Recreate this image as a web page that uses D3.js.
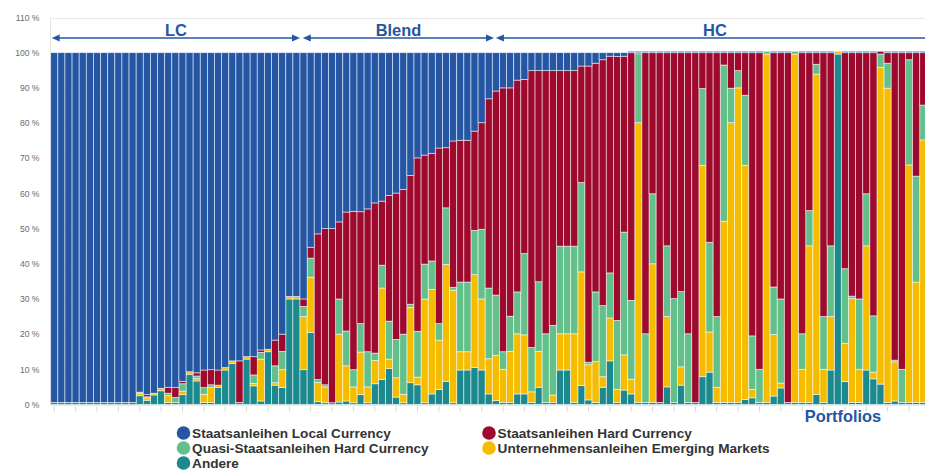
<!DOCTYPE html>
<html>
<head>
<meta charset="utf-8">
<script src="https://cdn.jsdelivr.net/npm/d3@7"></script>
<style>
  html, body { margin: 0; padding: 0; background: #fff; }
  svg { display: block; font-family: Arial, "Liberation Sans", sans-serif; }
</style>
</head>
<body>
<svg id="chart" width="925" height="470"></svg>
<script>
// Portfolio composition, in % of each portfolio, sorted from local-currency to hard-currency funds
const andere = [
  0.6,0.6,0.6,0.6,0.6,0.6,0.6,0.6,0.6,0.6,0.6,0.6,2.5,1.2,2.7,3.9,0.6,0.6,2.8,8.6,
  6.7,0.6,0.6,4.8,9.8,11.7,0.6,12.9,5.3,1.0,15.0,5.5,4.8,30.0,30.0,9.9,20.5,0.8,0.5,0.5,
  0.7,1.0,0.5,2.8,0.5,5.9,7.1,10.2,2.1,0.5,6.2,5.6,0.5,3.0,4.3,6.6,0.5,9.8,9.8,10.5,
  9.8,3.0,1.1,0.6,0.6,3.0,3.0,0.6,4.9,0.6,0.6,9.8,9.8,0.6,5.4,1.3,0.6,4.9,12.4,0.6,
  4.1,3.0,0.6,0.6,0.6,0.6,5.0,0.6,5.5,0.6,0.6,7.9,9.2,0.6,0.6,0.6,0.6,1.4,1.9,0.6,
  0.6,2.4,4.7,0.6,0.6,0.6,0.6,2.9,0.6,9.8,99.6,6.5,0.6,0.6,9.8,7.3,5.8,0.6,1.0,0.6,
  0.6,0.6,0.6
];
const unternehmensanleihenEM = [
  0,0,0,0,0,0,0,0,0,0,0,0,0.7,0.7,0.5,0.7,1.9,0,1.0,0.7,
  0.7,2.3,4.3,0.7,0.7,0.7,0,0.7,0.7,11.9,0.7,0.7,5.1,0.7,0.7,15.1,15.7,5.5,4.5,0,
  19.3,10.0,4.5,12.1,4.5,6.6,26.0,2.7,5.5,2.4,21.4,2.2,29.5,29.7,14.0,33.2,32.0,5.2,5.2,26.4,
  20.2,10.0,12.9,9.4,14.5,17.1,16.8,3.0,10.2,0,2.1,10.3,10.3,19.5,32.3,10.0,11.6,3.0,12.2,3.7,
  10.0,4.2,79.5,0,39.4,0,20.0,0,5.2,0,0,60.1,11.4,4.3,51.5,79.5,89.4,66.6,2.4,0,
  99.0,17.5,1.4,0,99.0,9.4,44.5,91.0,9.4,15.2,0.8,10.9,29.5,9.4,35.3,1.9,90.0,89.3,11.1,0,
  67.5,34.2,74.6
];
const quasiStaatsanleihenHC = [
  0,0,0,0,0,0,0,0,0,0,0,0,0.3,0.3,0,0,0.7,1.4,2.1,0,
  0.7,1.9,0.7,0,0,0,0,0,2.4,1.9,0,4.8,5.2,0,0,2.9,5.4,0.8,0.6,0,
  10.0,9.9,4.9,8.1,10.0,2.1,6.5,10.8,10.9,17.1,0.9,13.0,9.9,8.1,4.7,16.1,0.8,19.8,19.8,12.6,
  19.8,20.1,17.1,5.0,10.0,11.9,23.1,12.6,19.8,19.5,19.8,24.9,24.9,24.9,25.4,0.7,19.8,20.2,12.8,19.6,
  34.9,22.4,19.6,19.5,19.9,0,20.1,29.5,21.4,19.5,0,21.8,25.5,20.1,44.4,9.8,4.9,19.9,15.2,9.4,
  0.8,13.5,23.9,0,0.8,10.1,10.0,2.8,15.0,20.1,0,21.2,0.7,20.0,14.8,16.0,3.8,7.1,0.5,9.4,
  29.9,30.1,9.9
];
const staatsanleihenHC = [
  0,0,0,0,0,0,0,0,0,0,0,0,0,0.6,0,0,1.7,2.8,0.7,0,
  0.9,5.0,4.3,4.3,0,0,11.8,0,5.2,0.7,0,7.3,4.9,0,0,2.1,3.1,41.4,44.4,49.5,
  21.9,33.8,45.0,31.8,40.6,42.7,18.2,35.7,41.6,41.1,36.6,49.3,31.0,30.6,49.9,17.1,41.6,40.3,40.3,28.2,
  30.3,53.8,58.0,75.0,64.9,60.2,49.5,78.7,60.0,74.8,72.4,49.9,49.9,49.9,33.1,84.2,65.0,69.9,61.6,75.0,
  50.0,70.4,0.3,79.9,40.1,99.4,54.9,69.9,67.9,79.9,99.4,10.2,53.9,75.0,3.5,10.1,5.1,12.1,80.5,90.0,
  0,66.6,70.0,99.4,0,79.9,44.9,3.3,75.0,54.9,0,61.4,69.2,70.0,40.1,74.8,0.8,3.0,87.4,90.0,
  2.0,35.1,14.9
];
const staatsanleihenLC = [
  99.4,99.4,99.4,99.4,99.4,99.4,99.4,99.4,99.4,99.4,99.4,99.4,96.5,97.2,96.8,95.4,95.1,95.2,93.4,90.7,
  91.0,90.2,90.1,90.2,89.5,87.6,87.6,86.4,86.4,84.5,84.3,81.7,80.0,69.3,69.3,70.0,55.3,51.5,50.0,50.0,
  48.1,45.3,45.1,45.2,44.4,42.7,42.2,40.6,39.9,38.9,34.9,29.9,29.1,28.6,27.1,27.0,25.1,24.9,24.9,22.3,
  19.9,13.1,10.9,10.0,10.0,7.8,7.6,5.1,5.1,5.1,5.1,5.1,5.1,5.1,3.8,3.8,3.0,2.0,1.0,1.1,
  1.0,0.4,0.4,0.4,0.4,0.4,0.4,0.4,0.4,0.4,0.4,0.4,0.4,0.4,0.4,0.4,0.4,0.4,0.4,0.4,
  0,0.4,0.4,0.4,0,0.4,0.4,0.4,0.4,0.4,0,0.4,0.4,0.4,0.4,0.4,0,0.4,0.4,0.4,
  0.4,0.4,0.4
];

// Series in stacking order (bottom to top), with legend labels
const seriesKeys = ["andere", "unternehmen", "quasi", "staatsHC", "staatsLC"];
const seriesLabels = {
  staatsLC: "Staatsanleihen Local Currency",
  staatsHC: "Staatsanleihen Hard Currency",
  quasi: "Quasi-Staatsanleihen Hard Currency",
  unternehmen: "Unternehmensanleihen Emerging Markets",
  andere: "Andere"
};
const seriesColors = {
  staatsLC: "#2456a4",
  staatsHC: "#9e0a2e",
  quasi: "#63c08b",
  unternehmen: "#f6bd00",
  andere: "#1c898e"
};
const legendOrder = ["staatsLC", "staatsHC", "quasi", "unternehmen", "andere"];

// Portfolio groups shown by the arrows above the bars (first bar index of each group)
const groupLabels = ["LC", "Blend", "HC"];
const groupStarts = [0, 35, 62];

const yTicks = [0, 10, 20, 30, 40, 50, 60, 70, 80, 90, 100, 110];
const xAxisTitle = "Portfolios";

const rows = andere.map((_, i) => ({
  portfolio: i + 1,
  andere: andere[i],
  unternehmen: unternehmensanleihenEM[i],
  quasi: quasiStaatsanleihenHC[i],
  staatsHC: staatsanleihenHC[i],
  staatsLC: staatsanleihenLC[i]
}));

const svg = d3.select("#chart");
const W = 925;
const blue = "#2456a4";

const left = 50.7, pitch = 7.123;
const x = d3.scaleBand()
  .domain(rows.map(d => d.portfolio))
  .range([left, left + pitch * rows.length])
  .padding(0);
const y = d3.scaleLinear().domain([0, 110]).range([404.5, 17.5]);

// Grid and frame
const grid = svg.append("g");
grid.selectAll("line.h").data(yTicks).join("line")
  .attr("x1", left).attr("x2", W)
  .attr("y1", d => Math.round(y(d)) + 0.5).attr("y2", d => Math.round(y(d)) + 0.5)
  .attr("stroke", "#e9e9e9").attr("stroke-width", 1);
grid.append("line")
  .attr("x1", left - 0.2).attr("x2", left - 0.2)
  .attr("y1", y(110)).attr("y2", y(0))
  .attr("stroke", "#e6e6e6");

// Y axis labels
const yAxis = d3.axisLeft(y).tickValues(yTicks).tickSize(0).tickPadding(0)
  .tickFormat(d => d + " %");
svg.append("g").attr("transform", "translate(39.5,0)").call(yAxis)
  .call(g => g.select(".domain").remove())
  .call(g => g.selectAll("text")
    .attr("fill", "#6b6b6b").attr("font-size", 8.6)
    .attr("font-family", "Arial, 'Liberation Sans', sans-serif"));

// X axis ticks (every third portfolio)
const xAxis = d3.axisBottom(x)
  .tickValues(rows.map(d => d.portfolio).filter((d, i) => i % 3 === 0))
  .tickSize(5).tickFormat("");
svg.append("g").attr("transform", "translate(0,406.5)").call(xAxis)
  .call(g => g.select(".domain").remove())
  .call(g => g.selectAll("line").attr("stroke", "#d6d6d6"));

// Stacked bars
const stack = d3.stack().keys(seriesKeys);
const layers = stack(rows);
svg.append("g").selectAll("g").data(layers).join("g")
  .attr("fill", d => seriesColors[d.key])
  .selectAll("rect").data(d => d).join("rect")
  .attr("x", d => x(d.data.portfolio))
  .attr("width", x.bandwidth())
  .attr("y", d => y(d[1]))
  .attr("height", d => Math.max(0, y(d[0]) - y(d[1])))
  .attr("stroke", "#ffffff")
  .attr("stroke-opacity", 0.65)
  .attr("stroke-width", 0.8);

// Group arrows and labels
const arrowY = 38;
const groupEnds = [groupStarts[1], groupStarts[2], null];
const groupSpans = groupLabels.map((lab, i) => {
  const x0 = x(rows[groupStarts[i]].portfolio) + (i === 0 ? 1 : i === 1 ? 2.8 : 3.6);
  const x1 = groupEnds[i] === null ? 934 : x(rows[groupEnds[i]].portfolio) + (i === 1 ? 1.7 : 0);
  return { lab, x0, x1, openRight: groupEnds[i] === null };
});
const arrows = svg.append("g");
groupSpans.forEach(s => {
  const head = 8, half = 3.6;
  arrows.append("line")
    .attr("x1", s.x0 + 4).attr("x2", s.openRight ? s.x1 : s.x1 - 4)
    .attr("y1", arrowY).attr("y2", arrowY)
    .attr("stroke", blue).attr("stroke-width", 1.6);
  arrows.append("path")
    .attr("d", `M${s.x0},${arrowY} L${s.x0 + head},${arrowY - half} L${s.x0 + head},${arrowY + half} Z`)
    .attr("fill", blue);
  if (!s.openRight) {
    arrows.append("path")
      .attr("d", `M${s.x1},${arrowY} L${s.x1 - head},${arrowY - half} L${s.x1 - head},${arrowY + half} Z`)
      .attr("fill", blue);
  }
  arrows.append("text")
    .attr("x", (s.x0 + s.x1) / 2).attr("y", 35.7)
    .attr("text-anchor", "middle")
    .attr("font-size", 16.4).attr("font-weight", "bold")
    .attr("fill", blue)
    .text(s.lab);
});

// X axis title
svg.append("text")
  .attr("x", 843).attr("y", 422.3)
  .attr("text-anchor", "middle")
  .attr("font-size", 16.4).attr("font-weight", "bold")
  .attr("fill", blue)
  .text(xAxisTitle);

// Legend (two columns, filled left to right)
const legendCols = [183.5, 489];
const legendRowY = [433, 448, 463];
const legend = svg.append("g");
legendOrder.forEach((key, i) => {
  const cx = legendCols[i % 2], cy = legendRowY[Math.floor(i / 2)];
  legend.append("circle")
    .attr("cx", cx).attr("cy", cy).attr("r", 6.8)
    .attr("fill", seriesColors[key]);
  legend.append("text")
    .attr("x", cx + 8.6).attr("y", cy + 5)
    .attr("font-size", 13.6).attr("font-weight", "bold")
    .attr("fill", "#333333")
    .text(seriesLabels[key]);
});
</script>
</body>
</html>
